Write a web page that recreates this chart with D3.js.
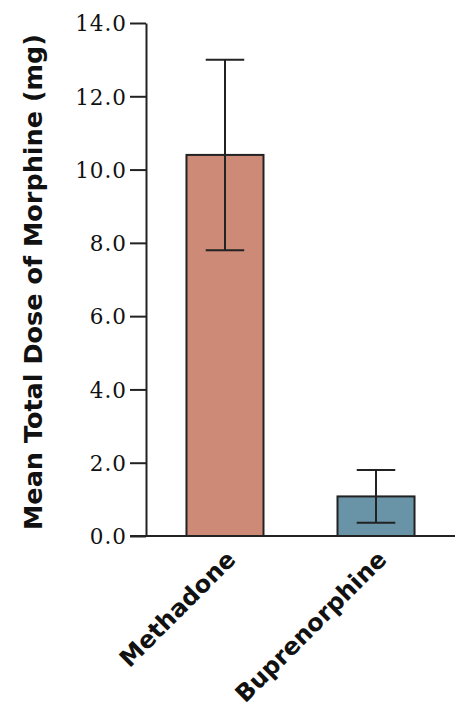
<!DOCTYPE html>
<html>
<head>
<meta charset="utf-8">
<script src="https://cdn.jsdelivr.net/npm/d3@7"></script>
<style>
  html, body { margin: 0; padding: 0; background: #fff; }
  svg { display: block; }
</style>
</head>
<body>
<svg id="chart" width="455" height="708"></svg>
<script>
// Mean total morphine dose by treatment group, with error bars
const categories = ["Methadone", "Buprenorphine"];
const means = [10.4, 1.08];
const lower = [7.8, 0.36];
const upper = [13.0, 1.8];
const fills = ["#cc8a77", "#6993a7"];
const yTicks = [0, 2, 4, 6, 8, 10, 12, 14];

const svg = d3.select("#chart");
const axisColor = "#222";

const x = d3.scaleBand()
  .domain(categories)
  .range([146, 455])
  .paddingInner(0.49)
  .paddingOuter(0.268);

const y = d3.scaleLinear()
  .domain([0, 14])
  .range([536, 23]);

// Bars
svg.append("g")
  .selectAll("rect")
  .data(categories)
  .join("rect")
  .attr("x", d => x(d))
  .attr("y", (d, i) => y(means[i]))
  .attr("width", x.bandwidth())
  .attr("height", (d, i) => y(0) - y(means[i]))
  .attr("fill", (d, i) => fills[i])
  .attr("stroke", axisColor)
  .attr("stroke-width", 2);

// Error bars
const capW = x.bandwidth() / 2;
const err = svg.append("g")
  .attr("stroke", axisColor)
  .attr("stroke-width", 2)
  .attr("fill", "none");
categories.forEach((c, i) => {
  const cx = x(c) + x.bandwidth() / 2;
  err.append("line")
    .attr("x1", cx).attr("x2", cx)
    .attr("y1", y(lower[i])).attr("y2", y(upper[i]));
  [lower[i], upper[i]].forEach(v => {
    err.append("line")
      .attr("x1", cx - capW / 2).attr("x2", cx + capW / 2)
      .attr("y1", y(v)).attr("y2", y(v));
  });
});

// X baseline
svg.append("line")
  .attr("x1", 130).attr("x2", 455)
  .attr("y1", y(0)).attr("y2", y(0))
  .attr("stroke", axisColor)
  .attr("stroke-width", 2);

// Y axis
const yAxis = svg.append("g")
  .attr("transform", "translate(146,0)")
  .call(d3.axisLeft(y)
    .tickValues(yTicks)
    .tickFormat(d3.format(".1f"))
    .tickSize(16)
    .tickSizeOuter(0)
    .tickPadding(3));
yAxis.select(".domain").attr("stroke", axisColor).attr("stroke-width", 2);
yAxis.selectAll(".tick line").attr("stroke", axisColor).attr("stroke-width", 2);
yAxis.selectAll(".tick text")
  .attr("fill", "#111")
  .attr("dy", "0.36em")
  .style("font-family", "'DejaVu Serif', serif")
  .style("font-size", "21.5px")
  .style("letter-spacing", "1px");

// Category labels, rotated
svg.append("g")
  .selectAll("text")
  .data(categories)
  .join("text")
  .attr("transform", d => `translate(${x(d) + x.bandwidth() / 2 + 12},561) rotate(-45)`)
  .attr("text-anchor", "end")
  .attr("fill", "#111")
  .style("font-family", "'DejaVu Sans', sans-serif")
  .style("font-weight", "bold")
  .style("font-size", "24px")
  .text(d => d);

// Y axis title
svg.append("text")
  .attr("transform", "translate(42,282) rotate(-90)")
  .attr("text-anchor", "middle")
  .attr("fill", "#111")
  .style("font-family", "'DejaVu Sans', sans-serif")
  .style("font-weight", "bold")
  .style("font-size", "25.5px")
  .text("Mean Total Dose of Morphine (mg)");
</script>
</body>
</html>
